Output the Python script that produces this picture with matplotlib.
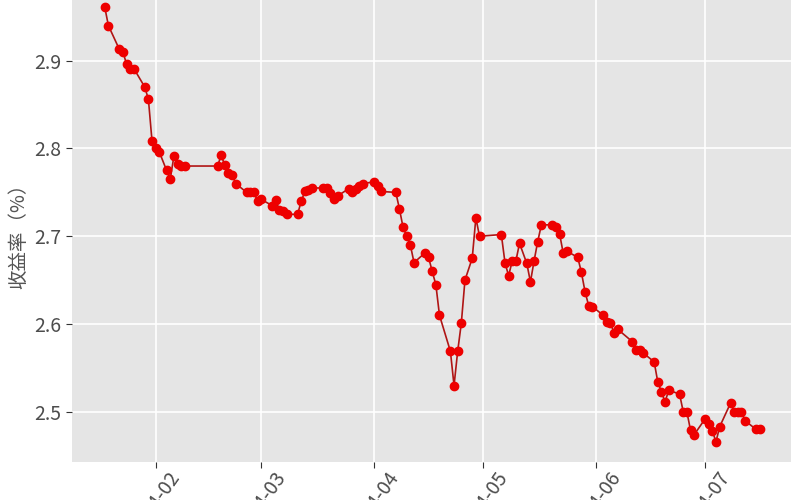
import matplotlib
matplotlib.use('Agg')
import matplotlib.pyplot as plt
import matplotlib.dates as mdates
import pandas as pd

plt.rcParams['font.family'] = ['Noto Sans CJK JP', 'DejaVu Sans']

dates = [
    '2024-01-18', '2024-01-19', '2024-01-22', '2024-01-23', '2024-01-24', '2024-01-25',
    '2024-01-26', '2024-01-29', '2024-01-30', '2024-01-31', '2024-02-01', '2024-02-02',
    '2024-02-04', '2024-02-05', '2024-02-06', '2024-02-07', '2024-02-08', '2024-02-09',
    '2024-02-18', '2024-02-19', '2024-02-20', '2024-02-21', '2024-02-22', '2024-02-23',
    '2024-02-26', '2024-02-27', '2024-02-28', '2024-02-29', '2024-03-01', '2024-03-04',
    '2024-03-05', '2024-03-06', '2024-03-07', '2024-03-08', '2024-03-11', '2024-03-12',
    '2024-03-13', '2024-03-14', '2024-03-15', '2024-03-18', '2024-03-19', '2024-03-20',
    '2024-03-21', '2024-03-22', '2024-03-25', '2024-03-26', '2024-03-27', '2024-03-28',
    '2024-03-29', '2024-04-01', '2024-04-02', '2024-04-03', '2024-04-07', '2024-04-08',
    '2024-04-09', '2024-04-10', '2024-04-11', '2024-04-12', '2024-04-15', '2024-04-16',
    '2024-04-17', '2024-04-18', '2024-04-19', '2024-04-22', '2024-04-23', '2024-04-24',
    '2024-04-25', '2024-04-26', '2024-04-28', '2024-04-29', '2024-04-30', '2024-05-06',
    '2024-05-07', '2024-05-08', '2024-05-09', '2024-05-10', '2024-05-11', '2024-05-13',
    '2024-05-14', '2024-05-15', '2024-05-16', '2024-05-17', '2024-05-20', '2024-05-21',
    '2024-05-22', '2024-05-23', '2024-05-24', '2024-05-27', '2024-05-28', '2024-05-29',
    '2024-05-30', '2024-05-31', '2024-06-03', '2024-06-04', '2024-06-05', '2024-06-06',
    '2024-06-07', '2024-06-11', '2024-06-12', '2024-06-13', '2024-06-14', '2024-06-17',
    '2024-06-18', '2024-06-19', '2024-06-20', '2024-06-21', '2024-06-24', '2024-06-25',
    '2024-06-26', '2024-06-27', '2024-06-28', '2024-07-01', '2024-07-02', '2024-07-03',
    '2024-07-04', '2024-07-05', '2024-07-08', '2024-07-09', '2024-07-10', '2024-07-11',
    '2024-07-12', '2024-07-15', '2024-07-16',
]

yields = [
    2.961, 2.940, 2.913, 2.910, 2.896, 2.891,
    2.891, 2.870, 2.856, 2.808, 2.801, 2.796,
    2.775, 2.765, 2.791, 2.782, 2.780, 2.780,
    2.780, 2.792, 2.781, 2.772, 2.770, 2.760,
    2.750, 2.750, 2.750, 2.740, 2.742, 2.735,
    2.741, 2.730, 2.729, 2.725, 2.725, 2.740,
    2.751, 2.753, 2.755, 2.755, 2.755, 2.749,
    2.743, 2.746, 2.754, 2.750, 2.754, 2.757,
    2.760, 2.762, 2.757, 2.751, 2.750, 2.731,
    2.710, 2.700, 2.690, 2.670, 2.681, 2.676,
    2.660, 2.645, 2.610, 2.569, 2.530, 2.569,
    2.601, 2.650, 2.675, 2.721, 2.700, 2.702,
    2.670, 2.655, 2.672, 2.672, 2.692, 2.669,
    2.648, 2.672, 2.694, 2.713, 2.713, 2.711,
    2.703, 2.681, 2.683, 2.676, 2.659, 2.637,
    2.621, 2.620, 2.610, 2.602, 2.601, 2.590,
    2.594, 2.580, 2.571, 2.571, 2.567, 2.557,
    2.534, 2.523, 2.511, 2.525, 2.520, 2.500,
    2.500, 2.479, 2.474, 2.492, 2.486, 2.478,
    2.466, 2.483, 2.510, 2.500, 2.500, 2.500,
    2.490, 2.480, 2.481,
]

y_ticks = [2.5, 2.6, 2.7, 2.8, 2.9]

x = pd.to_datetime(dates)

fig = plt.figure(figsize=(8, 5), dpi=100)
ax = fig.add_axes([0.09, 0.076, 0.899, 0.924])
ax.set_facecolor('#e5e5e5')

# line first, then the red points on top
ax.plot(x, yields, color='#b01515', linewidth=1.2, zorder=3)
ax.plot(x, yields, 'o', color='#ee0000', markersize=6, zorder=4)

ax.set_xlim(pd.Timestamp('2024-01-09'), pd.Timestamp('2024-07-24 16:00'))
ax.set_ylim(2.4429, 2.9691)

ax.xaxis.set_major_locator(mdates.MonthLocator(bymonth=range(2, 8)))
ax.xaxis.set_major_formatter(mdates.DateFormatter('%Y-%m'))
ax.set_yticks(y_ticks)
ax.set_yticklabels([f'{v:.1f}' for v in y_ticks])

ax.grid(True, color='white', linewidth=1.2)
ax.set_axisbelow(True)
for s in ax.spines.values():
    s.set_visible(False)

ax.tick_params(axis='both', colors='#333333', length=4, width=0.8,
               labelsize=14, labelcolor='#4d4d4d')
ax.tick_params(axis='x', pad=0.5)
plt.setp(ax.get_xticklabels(), rotation=55, ha='center')

ax.set_ylabel('收益率（%）', fontsize=14, color='#555555', labelpad=4)

fig.savefig('out.png', dpi=100)
